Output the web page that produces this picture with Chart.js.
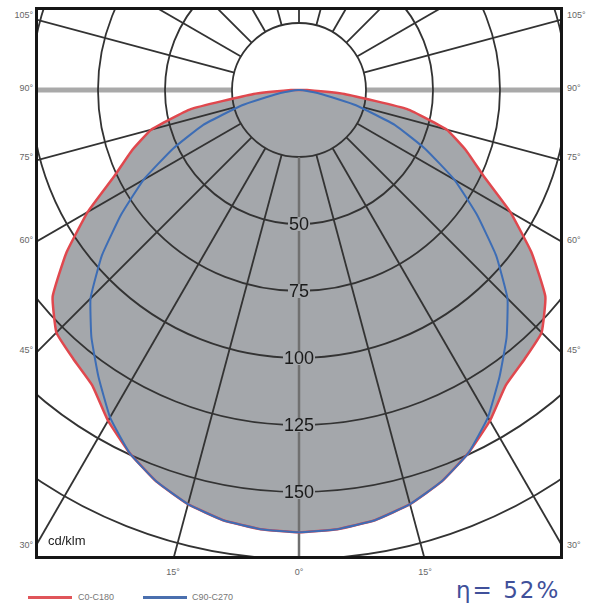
<!DOCTYPE html>
<html><head><meta charset="utf-8">
<script src="https://cdn.jsdelivr.net/npm/chart.js@4/dist/chart.umd.min.js"></script>
<style>
html,body{margin:0;padding:0;background:#fff;width:600px;height:614px;overflow:hidden;font-family:"Liberation Sans",Arial,sans-serif;}
#frame{position:absolute;left:35px;top:7px;width:528px;height:552px;box-sizing:border-box;border:3px solid #161616;overflow:hidden;background:#fff;}
#c{position:absolute;left:0;top:0;}
#unit{position:absolute;left:10px;top:523px;font-size:13px;line-height:15px;color:#222;z-index:2;}
.al{position:absolute;font-size:9px;line-height:10px;color:#666;white-space:nowrap;}
.l{text-align:right;width:33px;left:0;}
.r{left:567px;}
.b{width:30px;text-align:center;}
.lg{position:absolute;height:3px;width:44px;top:596px;}
.lt{position:absolute;top:592px;font-size:9px;line-height:10px;color:#777;}
#eta{position:absolute;left:456px;top:576px;font-family:"DejaVu Sans",sans-serif;font-size:23px;line-height:28px;color:#40509a;letter-spacing:2px;}
</style></head><body>
<div id="frame"><canvas id="c" width="1072" height="1072"></canvas><div id="unit">cd/klm</div></div>
<div id="labels"></div>
<div class="lg" style="left:28px;background:#e0555a"></div><div class="lt" style="left:78px">C0-C180</div>
<div class="lg" style="left:143px;background:#4a6fae"></div><div class="lt" style="left:192px">C90-C270</div>
<div id="eta">η= 52%</div>
<script>
// gamma angles (deg from nadir) for one half-plane; the curves are symmetric
const gammaDeg = [0,5,10,15,20,25,30,35,40,45,50,55,60,65,70,75,80,85,90];
// luminous intensity, cd/klm
const c0c180  = [165,164.5,163,160,155.5,149.5,142.5,134.5,131,128,120,106,91,76,66.5,57,41,17,3];
const c90c270 = [165,164.5,163,160,155.5,149.5,141,130.5,120.5,110,96,81,67,52,38,22,8,2,0];
const ringValues = [25,50,75,100,125,150,175,200];
const ringLabels = [50,75,100,125,150];
const sideAngleLabels = ['105°','90°','75°','60°','45°','30°'];
const bottomAngleLabels = ['15°','0°','15°'];

// page-layout positions of the angle labels
const sideY = [15,88,157,240,350,545];
const bottomX = [173,299,425];
const lab = document.getElementById('labels');
sideAngleLabels.forEach((t,i)=>{
  ['l','r'].forEach(cls=>{
    const d=document.createElement('div');d.className='al '+cls;d.textContent=t;d.style.top=(sideY[i]-5)+'px';lab.appendChild(d);
  });
});
bottomAngleLabels.forEach((t,i)=>{
  const d=document.createElement('div');d.className='al b';d.textContent=t;d.style.left=(bottomX[i]-15)+'px';d.style.top='567px';lab.appendChild(d);
});

const step = 5;
const labels = Array.from({length:360/step},(_,i)=>i*step);
function fullCircle(half){
  return labels.map(a=>{const g=a<=180?a:360-a;const k=gammaDeg.indexOf(g);return k>=0?half[k]:0;});
}

const FILL='#a4a7ab';
const gridPlugin={
  id:'polarGrid',
  afterDatasetDraw(chart,args){
    if(args.index!==0) return;
    const s=chart.scales.r, ctx=chart.ctx;
    ctx.save();
    ctx.lineCap='butt';
    // horizontal 90° line
    [90,270].forEach(a=>{
      const p0=s.getPointPositionForValue(a/step,25), p1=s.getPointPositionForValue(a/step,215);
      ctx.strokeStyle='#a9a9a9';ctx.lineWidth=5;ctx.beginPath();ctx.moveTo(p0.x,p0.y);ctx.lineTo(p1.x,p1.y);ctx.stroke();
    });
    // rings
    ctx.strokeStyle='#333';ctx.lineWidth=1.8;
    ringValues.forEach(v=>{
      const r=s.getDistanceFromCenterForValue(v);
      ctx.beginPath();ctx.arc(s.xCenter,s.yCenter,r,0,Math.PI*2);ctx.stroke();
    });
    // spokes
    for(let a=0;a<360;a+=15){
      if(a===90||a===270) continue;
      const p0=s.getPointPositionForValue(a/step,25), p1=s.getPointPositionForValue(a/step,215);
      if(a===0){ctx.strokeStyle='#707070';ctx.lineWidth=2.5;} else {ctx.strokeStyle='#333';ctx.lineWidth=1.8;}
      ctx.beginPath();ctx.moveTo(p0.x,p0.y);ctx.lineTo(p1.x,p1.y);ctx.stroke();
    }
    // ring value labels
    ctx.font='18px "Liberation Sans", Arial, sans-serif';
    ctx.textAlign='center';ctx.textBaseline='middle';
    ringLabels.forEach(v=>{
      const p=s.getPointPositionForValue(0,v);
      const t=String(v), w=ctx.measureText(t).width;
      ctx.fillStyle=FILL;ctx.fillRect(p.x-w/2-1,p.y-7,w+2,14);
      ctx.fillStyle='#1a1a1a';ctx.fillText(t,p.x,p.y+1);
    });
    ctx.restore();
  }
};

const canvas=document.getElementById('c');
const chart=new Chart(canvas.getContext('2d'),{
  type:'radar',
  data:{labels,datasets:[
    {label:'fill',data:fullCircle(c0c180),borderWidth:0,backgroundColor:FILL,fill:'origin',pointRadius:0,order:3},
    {label:'C0-C180',data:fullCircle(c0c180),borderColor:'#e0484e',borderWidth:2.5,fill:false,pointRadius:0,order:2},
    {label:'C90-C270',data:fullCircle(c90c270),borderColor:'#3d6db5',borderWidth:2,fill:false,pointRadius:0,order:1}
  ]},
  options:{
    responsive:false,animation:false,events:[],
    layout:{padding:0},
    plugins:{legend:{display:false},tooltip:{enabled:false}},
    elements:{line:{tension:0.12,borderJoinStyle:'round'}},
    scales:{r:{min:0,max:200,startAngle:180,
      ticks:{display:false,stepSize:25},
      grid:{display:false},angleLines:{display:false},pointLabels:{display:false}}}
  },
  plugins:[gridPlugin]
});
const s=chart.scales.r;
canvas.style.left=(299-38-s.xCenter)+'px';
canvas.style.top=(90-10-s.yCenter)+'px';
</script>
</body></html>
